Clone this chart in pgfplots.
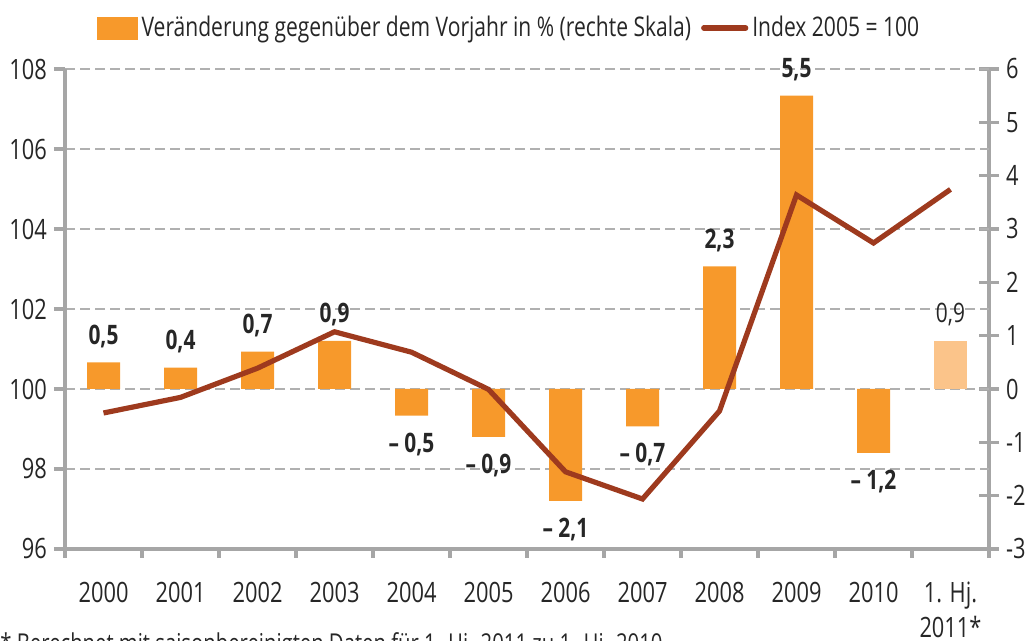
\documentclass[border=0pt]{standalone}
\usepackage{pgfplots}
\pgfplotsset{compat=1.18}
\usepackage{fontspec}
\setmainfont{Open Sans}[FakeStretch=0.78]
\definecolor{barorange}{HTML}{F7992B}
\definecolor{barlight}{HTML}{FBC48A}
\definecolor{linered}{HTML}{9E3A1E}
\definecolor{axisgray}{HTML}{A6A6A6}
\definecolor{gridgray}{HTML}{B0B0B0}
\definecolor{txt}{HTML}{262626}

\begin{document}
\begin{tikzpicture}[font=\fontsize{14}{17.5}\selectfont, text=txt]
% ---------- bars, right axis ----------
\begin{axis}[
  at={(0pt,0pt)}, anchor=south west,
  width=462pt, height=240pt, scale only axis,
  clip=false,
  xmin=-0.5, xmax=11.5,
  ymin=-3, ymax=6,
  axis x line*=bottom, axis y line*=right,
  axis line style={axisgray, line width=1.6pt},
  tick align=center,
  major tick length=10pt,
  minor tick length=4.5pt,
  xtick={0,...,11},
  xticklabels={2000,2001,2002,2003,2004,2005,2006,2007,2008,2009,2010,{\begin{tabular}[t]{@{}c@{}}1. Hj.\\2011*\end{tabular}}},
  xticklabel style={anchor=base, yshift=-22pt, font=\fontsize{14}{17.5}\selectfont},
  major x tick style={draw=none},
  minor xtick={-0.5,0.5,...,11.5},
  minor x tick style={axisgray, line width=1.6pt, yshift=-2.25pt},
  ytick={-3,...,6},
  yticklabels={-3,-2,-1,0,1,2,3,4,5,6},
  major y tick style={axisgray, line width=1.6pt},
  yticklabel style={font=\fontsize{14}{17.5}\selectfont},
  extra y ticks={-1.5,0,1.5,3,4.5,6},
  extra y tick labels={},
  extra y tick style={grid=major, major grid style={gridgray, dash pattern=on 5pt off 2.5pt, line width=0.6pt}, major tick length=0pt},
  /pgf/number format/assume math mode=true,
]
% positive bars
\addplot[ybar, bar width=16.5pt, bar shift=0pt, fill=barorange, draw=none,
  nodes near coords, point meta=explicit symbolic,
  every node near coord/.append style={font=\fontsize{13.4}{13.4}\selectfont\bfseries, text=txt, inner sep=0pt, text height=9.3pt, text depth=0pt, outer ysep=9pt, anchor=south}]
coordinates {
 (0,0.5)[{0,5}]
 (1,0.4)[{0,4}]
 (2,0.7)[{0,7}]
 (3,0.9)[{0,9}]
 (8,2.3)[{2,3}]
 (9,5.5)[{5,5}]
};
% negative bars
\addplot[ybar, bar width=16.5pt, bar shift=0pt, fill=barorange, draw=none,
  nodes near coords, point meta=explicit symbolic,
  every node near coord/.append style={font=\fontsize{13.4}{13.4}\selectfont\bfseries, text=txt, inner sep=0pt, text height=9.3pt, text depth=0pt, outer ysep=9pt, anchor=north}]
coordinates {
 (4,-0.5)[{– 0,5}]
 (5,-0.9)[{– 0,9}]
 (6,-2.1)[{– 2,1}]
 (7,-0.7)[{– 0,7}]
 (10,-1.2)[{– 1,2}]
};
% first half 2011
\addplot[ybar, bar width=16.5pt, bar shift=0pt, fill=barlight, draw=none,
  nodes near coords, point meta=explicit symbolic,
  every node near coord/.append style={font=\fontsize{13.4}{13.4}\selectfont, text=txt, inner sep=0pt, text height=9.3pt, text depth=0pt, outer ysep=9pt, anchor=south}]
coordinates {
 (11,0.9)[{0,9}]
};
\end{axis}
% ---------- line, left axis ----------
\begin{axis}[
  at={(0pt,0pt)}, anchor=south west,
  width=462pt, height=240pt, scale only axis,
  clip=false,
  xmin=-0.5, xmax=11.5,
  ymin=96, ymax=108,
  axis x line=none, axis y line*=left,
  axis line style={axisgray, line width=1.6pt},
  tick align=outside,
  major tick length=5.5pt,
  ytick={96,98,...,108},
  yticklabels={96,98,100,102,104,106,108},
  major y tick style={axisgray, line width=1.6pt},
  yticklabel style={font=\fontsize{14}{17.5}\selectfont},
  /pgf/number format/assume math mode=true,
  legend columns=2,
  legend cell align=left,
  legend style={draw=none, fill=none, at={(0.5,1)}, anchor=center, xshift=-8.5pt, yshift=20.5pt,
    font=\fontsize{13.5}{16}\selectfont, text=txt,
    /tikz/every even column/.append style={column sep=3pt}},
]
\addlegendimage{legend image code/.code={\fill[barorange] (0pt,-5.5pt) rectangle (20pt,5.5pt);}}
\addlegendentry{Veränderung gegenüber dem Vorjahr in \% (rechte Skala)}
\addplot[linered, line width=2.6pt, mark=none,
  legend image code/.code={\draw[linered, line width=2.6pt, line cap=round] (0pt,0pt) -- (21pt,0pt);}]
coordinates {
 (0,99.40) (1,99.79) (2,100.52) (3,101.43) (4,100.92) (5,99.99)
 (6,97.93) (7,97.25) (8,99.45) (9,104.85) (10,103.65) (11,104.99)
};
\addlegendentry{Index 2005 = 100}
\end{axis}
\node[anchor=north west, inner sep=0pt, font=\fontsize{13}{13}\selectfont, text=txt] at (-32.5pt,-41.5pt)
  {* Berechnet mit saisonbereinigten Daten für 1. Hj. 2011 zu 1. Hj. 2010};
\pgfresetboundingbox
\useasboundingbox (-32.5pt,-46pt) rectangle (482pt,274.5pt);
\end{tikzpicture}
\end{document}
